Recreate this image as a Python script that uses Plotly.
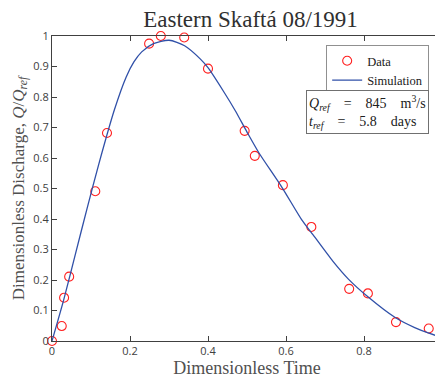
import plotly.graph_objects as go

# Observed data (dimensionless)
data_t = [0.0, 0.025, 0.031, 0.044, 0.111, 0.141, 0.249, 0.279, 0.339, 0.400,
          0.494, 0.520, 0.592, 0.665, 0.762, 0.810, 0.882, 0.966, 1.0]
data_q = [0.0, 0.049, 0.142, 0.211, 0.491, 0.682, 0.975, 1.0, 0.995, 0.893,
          0.689, 0.607, 0.511, 0.374, 0.171, 0.156, 0.062, 0.041, 0.007]

# Simulation curve
sim_t = [0.0, 0.03, 0.06, 0.09, 0.12, 0.16, 0.19, 0.21, 0.23, 0.26, 0.30, 0.34, 0.38,
         0.40, 0.44, 0.47, 0.50, 0.53, 0.59, 0.64, 0.67, 0.72, 0.76, 0.81, 0.88,
         0.93, 0.97, 1.0]
sim_q = [0.0, 0.135, 0.285, 0.435, 0.58, 0.758, 0.865, 0.915, 0.948, 0.975, 0.986, 0.968,
         0.925, 0.896, 0.818, 0.755, 0.685, 0.618, 0.503, 0.398, 0.347, 0.262, 0.203,
         0.145, 0.077, 0.044, 0.024, 0.012]

x_ticks = [0, 0.2, 0.4, 0.6, 0.8, 1]
x_ticklabels = ["0", "0.2", "0.4", "0.6", "0.8", "1"]
y_ticks = [0, 0.1, 0.2, 0.3, 0.4, 0.5, 0.6, 0.7, 0.8, 0.9, 1]
y_ticklabels = ["0", "0.1", "0.2", "0.3", "0.4", "0.5", "0.6", "0.7", "0.8", "0.9", "1"]

serif = "Liberation Serif, DejaVu Serif, serif"
sans = "Open Sans, Noto Sans, sans-serif"
axis_col = "#404040"

fig = go.Figure()
fig.add_trace(go.Scatter(
    x=data_t, y=data_q, mode="markers", name="Data",
    marker=dict(symbol="circle-open", size=9, color="#ff2020", line=dict(width=1.1)),
    cliponaxis=False,
))
fig.add_trace(go.Scatter(
    x=sim_t, y=sim_q, mode="lines", name="Simulation",
    line=dict(color="#3050a8", width=1.3, shape="spline", smoothing=0.7),
))

axis_common = dict(
    showgrid=False, zeroline=False, showline=True, linecolor=axis_col, linewidth=1,
    mirror="ticks", ticks="inside", ticklen=5, tickcolor=axis_col, automargin=False,
    tickfont=dict(family=sans, size=11, color="#404040"),
)

nb = "&nbsp;"

# page body has an 8px margin, so the figure is sized to fit the 443x383 window
fig.update_layout(
    width=435, height=375,
    margin=dict(l=44, r=1, t=28, b=42),
    paper_bgcolor="white", plot_bgcolor="white",
    title=dict(text="Eastern Skaftá 08/1991", x=0.5575, xanchor="center",
               y=0.971, yanchor="middle",
               font=dict(family=serif, size=23, color="#303030")),
    xaxis=dict(range=[0, 1], tickvals=x_ticks, ticktext=x_ticklabels,
               title=dict(text="Dimensionless Time", standoff=2,
                          font=dict(family=serif, size=18, color="#505050")),
               **axis_common),
    yaxis=dict(range=[0, 1], tickvals=y_ticks, ticktext=y_ticklabels,
               title=dict(text="Dimensionless Discharge, <i>Q</i>/<i>Q</i><sub><i>ref</i></sub>",
                          standoff=4,
                          font=dict(family=serif, size=17, color="#505050")),
               **axis_common),
    legend=dict(x=0.703, y=0.97, xanchor="left", yanchor="top",
                bgcolor="white", bordercolor="#909090", borderwidth=1,
                font=dict(family=serif, size=12.5, color="#202020"),
                itemwidth=30, tracegroupgap=0),
    showlegend=True,
    annotations=[dict(
        xref="paper", yref="paper", x=0.651, y=0.823, xanchor="left", yanchor="top",
        showarrow=False, align="left",
        text=("<i>Q</i><sub><i>ref</i></sub>" + nb * 4 + "=" + nb * 4 + "845" + nb * 4 + "m<sup>3</sup>/s<br>"
              "<i>t</i><sub><i>ref</i></sub>" + nb * 4 + "=" + nb * 4 + "5.8" + nb * 4 + "days"),
        font=dict(family=serif, size=14, color="#202020"),
        bgcolor="white", bordercolor="#707070", borderwidth=1, borderpad=2,
    )],
)

fig.write_html("out.html")
